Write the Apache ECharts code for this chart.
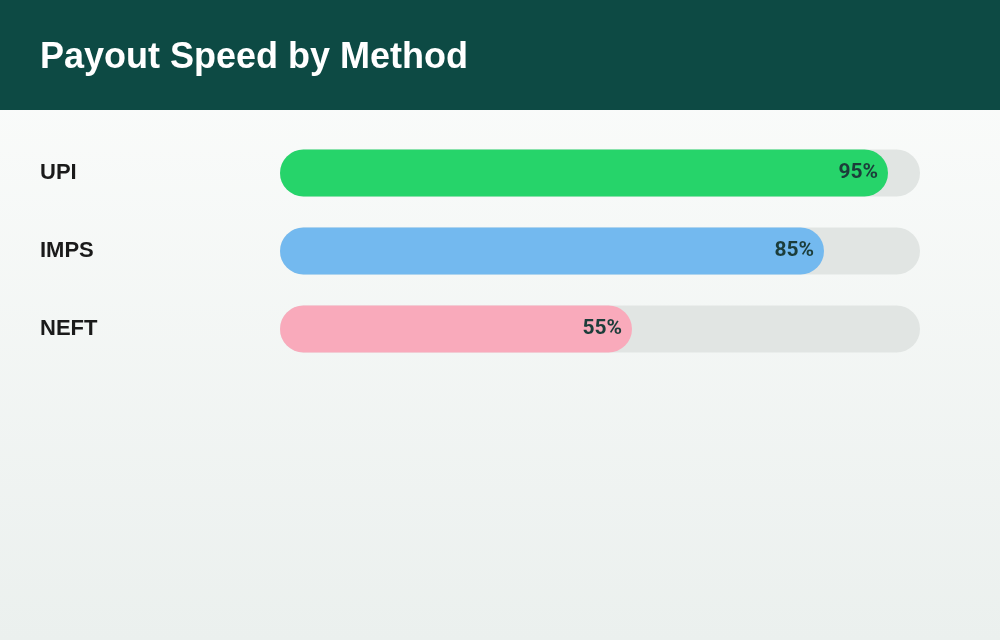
<!DOCTYPE html>
<html>
<head>
<meta charset="utf-8">
<script src="https://cdn.jsdelivr.net/npm/echarts@6/dist/echarts.min.js"></script>
<style>
  html, body { margin: 0; padding: 0; }
  #chart { width: 1000px; height: 640px; }
</style>
</head>
<body>
<div id="chart"></div>
<script>
// data
var methods = ['UPI', 'IMPS', 'NEFT'];
var speeds = [95, 85, 55];
var barColors = ['#26d46a', '#73b9ef', '#f9aabb'];

var chart = echarts.init(document.getElementById('chart'));

chart.setOption({
    backgroundColor: {
        type: 'linear', x: 0, y: 0, x2: 0, y2: 1,
        colorStops: [
            { offset: 0, color: '#fcfdfc' },
            { offset: 1, color: '#ebf0ee' }
        ]
    },
    graphic: [{
        type: 'rect',
        left: 0, top: 0, z: -1,
        shape: { width: 1000, height: 110 },
        style: { fill: '#0d4a44' }
    }],
    title: {
        text: 'Payout Speed by Method',
        left: 40,
        top: 40,
        padding: 0,
        textStyle: {
            color: '#ffffff',
            fontFamily: 'Arial, sans-serif',
            fontWeight: 'bold',
            fontSize: 36
        }
    },
    grid: { left: 280, right: 80, top: 134, bottom: 272 },
    xAxis: {
        type: 'value',
        min: 0, max: 100,
        show: false
    },
    yAxis: {
        type: 'category',
        data: methods,
        inverse: true,
        axisLine: { show: false },
        axisTick: { show: false },
        axisLabel: {
            align: 'left',
            margin: 240,
            padding: [0, 0, 4, 0],
            color: '#1a1a1a',
            fontFamily: 'Arial, sans-serif',
            fontWeight: 'bold',
            fontSize: 22
        }
    },
    series: [{
        type: 'bar',
        barWidth: 47,
        data: speeds.map(function (v, i) {
            return { value: v, itemStyle: { color: barColors[i] } };
        }),
        itemStyle: { borderRadius: 23.5 },
        showBackground: true,
        backgroundStyle: { color: '#e1e5e3', borderRadius: 23.5 },
        label: {
            show: true,
            position: 'insideRight',
            distance: 10,
            formatter: '{c}%',
            color: '#1c3d3a',
            fontFamily: 'Roboto',
            fontWeight: 'bold',
            fontSize: 21
        },
        silent: true
    }]
});
</script>
</body>
</html>
